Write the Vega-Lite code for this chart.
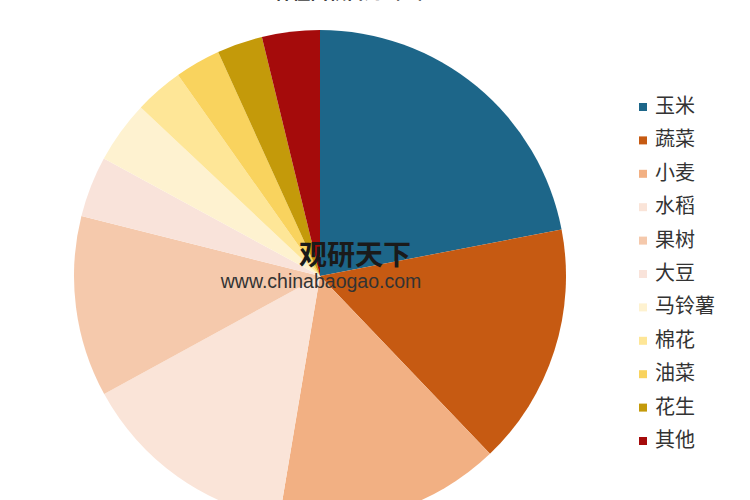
{
  "$schema": "https://vega.github.io/schema/vega-lite/v6.json",
  "width": 640,
  "height": 552,
  "autosize": {"type": "none"},
  "padding": {"left": 0, "top": 0, "right": 110, "bottom": -52},
  "background": "white",
  "title": {
    "text": "种植面积占比（%）",
    "fontSize": 18,
    "font": "Noto Sans CJK SC",
    "fontWeight": "bold",
    "color": "#404040",
    "offset": -3,
    "dx": 35
  },
  "layer": [
    {
      "data": {
        "values": [
          {"crop": "玉米", "share": 22.0, "order": 1},
          {"crop": "蔬菜", "share": 15.9, "order": 2},
          {"crop": "小麦", "share": 14.8, "order": 3},
          {"crop": "水稻", "share": 14.4, "order": 4},
          {"crop": "果树", "share": 11.9, "order": 5},
          {"crop": "大豆", "share": 4.0, "order": 6},
          {"crop": "马铃薯", "share": 4.1, "order": 7},
          {"crop": "棉花", "share": 3.2, "order": 8},
          {"crop": "油菜", "share": 3.0, "order": 9},
          {"crop": "花生", "share": 3.0, "order": 10},
          {"crop": "其他", "share": 3.8, "order": 11}
        ]
      },
      "mark": {"type": "arc", "outerRadius": 246},
      "encoding": {
        "theta": {"field": "share", "type": "quantitative", "stack": true},
        "order": {"field": "order", "type": "quantitative"},
        "color": {
          "field": "crop",
          "type": "nominal",
          "scale": {
            "domain": ["玉米", "蔬菜", "小麦", "水稻", "果树", "大豆", "马铃薯", "棉花", "油菜", "花生", "其他"],
            "range": ["#1D6689", "#C65A12", "#F2B083", "#FAE4D8", "#F5C9AC", "#F9E3DA", "#FEF2D0", "#FEE697", "#F9D35E", "#C49A0A", "#A50B0B"]
          },
          "legend": {
            "title": null,
            "orient": "none",
            "legendX": 633,
            "legendY": 97,
            "symbolType": "square",
            "symbolSize": 64,
            "symbolStrokeWidth": 0,
            "labelFontSize": 20,
            "labelFont": "Noto Sans CJK SC",
            "labelColor": "#333333",
            "labelOffset": 2,
            "rowPadding": 13.4
          }
        }
      }
    },
    {
      "data": {"values": [{"label": "观研天下"}]},
      "mark": {"type": "text", "font": "Noto Sans CJK SC", "fontWeight": "bold", "fontSize": 28, "color": "#1a1a1a", "dx": 35, "dy": -19},
      "encoding": {"text": {"field": "label", "type": "nominal"}}
    },
    {
      "data": {"values": [{"label": "www.chinabaogao.com"}]},
      "mark": {"type": "text", "font": "Liberation Sans", "fontSize": 19.5, "color": "#333333", "dx": 1, "dy": 6},
      "encoding": {"text": {"field": "label", "type": "nominal"}}
    }
  ],
  "config": {"view": {"stroke": null}}
}
